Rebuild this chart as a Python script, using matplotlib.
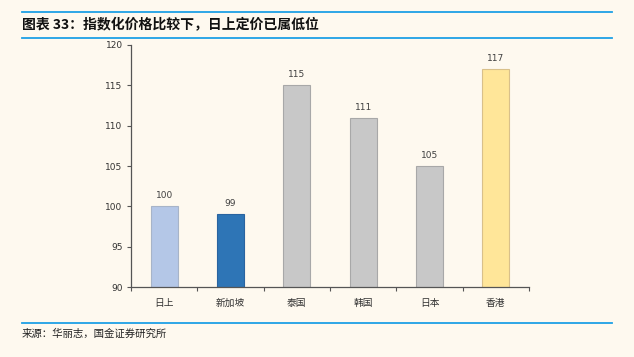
#Goal: index price comparison bar chart (日上 vs other markets)

#Libraries
import matplotlib
matplotlib.use('Agg')
import matplotlib.pyplot as plt
import numpy as np
from matplotlib import rcParams
from matplotlib.lines import Line2D

#fonts: CJK first, DejaVu as fallback
rcParams['font.family'] = ['Noto Sans CJK SC', 'DejaVu Sans']
rcParams.update({'font.size': 7})

#data
Markets = ['日上', '新加坡', '泰国', '韩国', '日本', '香港']
PriceIndex = [100, 99, 115, 111, 105, 117]
BarColors = ['#B4C7E7', '#2E75B6', '#C8C8C8', '#C8C8C8', '#C8C8C8', '#FFE699']
EdgeColors = ['#A7B4C8', '#2A64A0', '#A8A8A8', '#A8A8A8', '#A8A8A8', '#D9C08A']
YTicks = [90, 95, 100, 105, 110, 115, 120]

bg = '#FEF9EF'
index = np.arange(len(Markets))

#make the graph
fig = plt.figure(figsize=(6.34, 3.57), dpi=100, facecolor=bg)
ax = fig.add_axes([0.2066, 0.196, 0.6278, 0.678], facecolor=bg)

ax.bar(index, PriceIndex, width=0.41, color=BarColors, edgecolor=EdgeColors, linewidth=0.8)
for i, v in zip(index, PriceIndex):
    ax.text(i, v + 0.75, str(v), ha='center', va='bottom', fontsize=6.5, color='#404040',
            family='DejaVu Sans')

ax.set_xlim(-0.5, len(Markets) - 0.5)
ax.set_ylim(90, 120)
ax.set_yticks(YTicks)
ax.set_yticklabels([str(t) for t in YTicks], family='DejaVu Sans', fontsize=6.5, color='#333333')
ax.set_xticks(index)
ax.set_xticklabels(Markets, fontsize=7, color='#333333')
ax.tick_params(axis='x', which='major', length=0, pad=8)
ax.set_xticks(np.arange(-0.5, len(Markets)), minor=True)
ax.tick_params(axis='x', which='minor', length=3, width=0.8, color='#555555', direction='out')
ax.tick_params(axis='y', length=3, width=0.8, color='#555555', direction='out', pad=3)

for side in ['top', 'right']:
    ax.spines[side].set_visible(False)
for side in ['left', 'bottom']:
    ax.spines[side].set_color('#555555')
    ax.spines[side].set_linewidth(0.9)

#title, rules and source
blue = '#1EA0E6'
for y in [1 - 12 / 357, 1 - 38 / 357, 1 - 323 / 357]:
    fig.add_artist(Line2D([22 / 634, 612 / 634], [y, y], color=blue, linewidth=1.3,
                          transform=fig.transFigure))
fig.text(22 / 634, 1 - 25 / 357, '图表 33：指数化价格比较下，日上定价已属低位', fontsize=10,
         fontweight='bold', style='italic', va='center', ha='left', color='#111111')
fig.text(22 / 634, 1 - 334 / 357, '来源：华丽志，国金证券研究所', fontsize=7.5,
         va='center', ha='left', color='#222222')

fig.savefig('out.png', dpi=100, facecolor=bg)
